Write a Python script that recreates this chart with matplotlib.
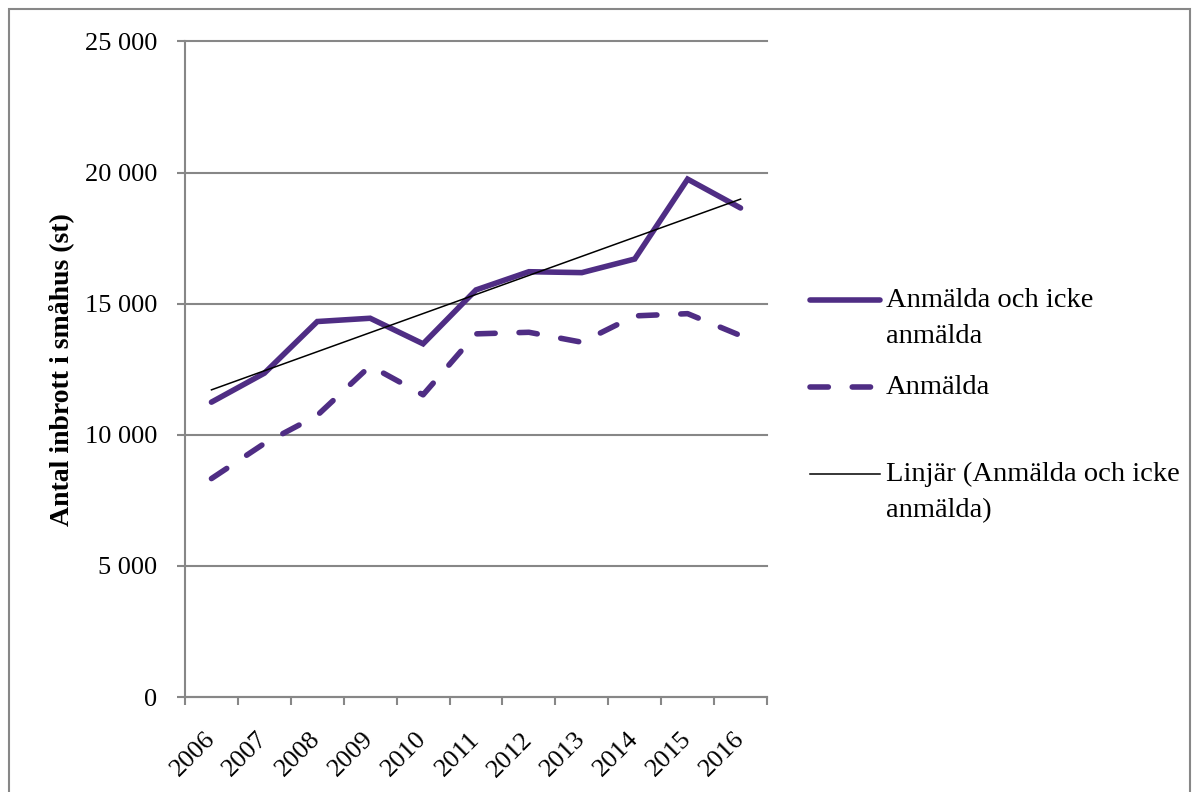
import matplotlib.pyplot as plt
from matplotlib.lines import Line2D
from matplotlib.patches import Rectangle
import numpy as np

years = ['2006', '2007', '2008', '2009', '2010', '2011', '2012', '2013', '2014', '2015', '2016']
anm_och_icke = [11245, 12350, 14320, 14445, 13470, 15525, 16220, 16185, 16705, 19750, 18650]
anmalda = [8330, 9670, 10740, 12630, 11525, 13850, 13910, 13530, 14535, 14620, 13785]

purple = '#4f2d84'
grey = '#878787'

plt.rcParams['font.family'] = ['Liberation Serif', 'DejaVu Serif']

fig = plt.figure(figsize=(12, 7.92), dpi=100)
ax = fig.add_axes([185 / 1200, 1 - 697 / 792, 582 / 1200, 655.5 / 792])

x = np.arange(len(years))
# linear trend on the solid series (Excel "Linjär")
k, m = np.polyfit(x, anm_och_icke, 1)

ax.plot(x, anm_och_icke, color=purple, lw=4, solid_capstyle='round', solid_joinstyle='miter', zorder=3)
ax.plot(x, anmalda, color=purple, lw=4, dashes=(3.3, 4.3), dash_capstyle='round', zorder=3)
ax.plot(x, k * x + m, color='black', lw=1.1, zorder=4)

ax.set_xlim(-0.5, len(years) - 0.5)
ax.set_ylim(0, 25000)
ax.set_yticks(np.arange(0, 25001, 5000))
ax.set_yticklabels(['0', '5 000', '10 000', '15 000', '20 000', '25 000'])
ax.yaxis.grid(True, color=grey, lw=1.5)
for gl in ax.get_ygridlines():
    gl.set_clip_on(False)
ax.set_axisbelow(True)

ax.set_xticks(np.arange(-0.5, len(years), 1))
ax.set_xticklabels([])
ax.set_xticks(x, minor=True)
ax.set_xticklabels(years, minor=True, rotation=45, ha='right', va='center',
                   rotation_mode='anchor', fontsize=19)
ax.tick_params(axis='x', which='major', direction='out', length=6, width=1.5, color=grey)
ax.tick_params(axis='x', which='minor', length=0, pad=28)
ax.tick_params(axis='y', direction='out', length=6, width=1.5, color=grey, labelsize=19, pad=14)

for s in ['top', 'right']:
    ax.spines[s].set_visible(False)
for s in ['left', 'bottom']:
    ax.spines[s].set_color(grey)
    ax.spines[s].set_linewidth(1.5)

ax.set_ylabel('Antal inbrott i småhus (st)', fontsize=20, fontweight='bold')
ax.yaxis.set_label_coords(-0.19, 0.5)

# legend drawn by hand so the handles sit on the first text line
def px(xp, yp):
    return xp / 1200, 1 - yp / 792

entries = [
    (300, ['Anmälda och icke', 'anmälda'], dict(color=purple, lw=4, solid_capstyle='round')),
    (387, ['Anmälda'], dict(color=purple, lw=4, dashes=(3.3, 4.3), dash_capstyle='round')),
    (474, ['Linjär (Anmälda och icke', 'anmälda)'], dict(color='black', lw=1.1)),
]
for yp, lines, style in entries:
    x0, y0 = px(810, yp)
    x1, _ = px(880, yp)
    fig.add_artist(Line2D([x0, x1], [y0, y0], transform=fig.transFigure, **style))
    for i, t in enumerate(lines):
        tx, ty = px(886, yp + 7 + 36 * i)
        fig.text(tx, ty, t, fontsize=20.5, va='baseline', ha='left')

fig.add_artist(Rectangle((9 / 1200, -0.05), 1181 / 1200, 1 - 9 / 792 + 0.05,
                         transform=fig.transFigure, fill=False, edgecolor=grey, lw=1.5))

fig.savefig('out.png', dpi=100)
